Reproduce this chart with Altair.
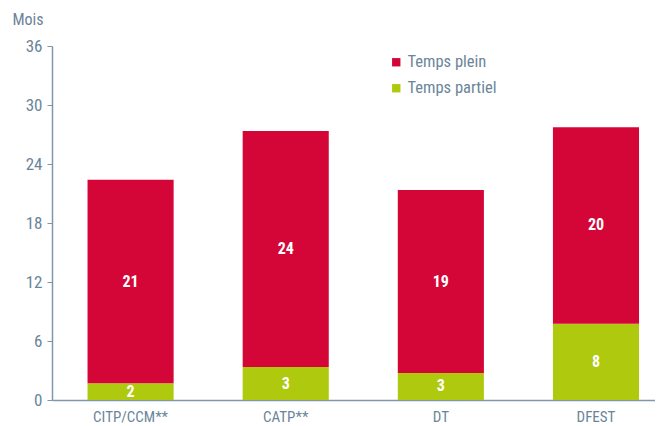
import altair as alt
import pandas as pd

categories = ["CITP/CCM**", "CATP**", "DT", "DFEST"]
plein = [20.7, 24.0, 18.6, 20.0]
partiel = [1.7, 3.35, 2.75, 7.75]
plein_labels = ["21", "24", "19", "20"]
partiel_labels = ["2", "3", "3", "8"]
y_ticks = [0, 6, 12, 18, 24, 30, 36]
series = ["Temps plein", "Temps partiel"]
colors = ["#d40638", "#afc90e"]

rows = []
for i, c in enumerate(categories):
    rows.append({"cat": c, "type": "Temps partiel", "order": 0, "v": partiel[i],
                 "mid": partiel[i] / 2, "lab": partiel_labels[i]})
    rows.append({"cat": c, "type": "Temps plein", "order": 1, "v": plein[i],
                 "mid": partiel[i] + plein[i] / 2, "lab": plein_labels[i]})
df = pd.DataFrame(rows)

FONT = "Roboto Condensed, Roboto, sans-serif"
TXT = "#6a8599"
LINE = "#7f97a8"

x = alt.X("cat:N", sort=categories, title=None,
          scale=alt.Scale(paddingInner=0.445, paddingOuter=0.166, align=0.69),
          axis=alt.Axis(labelAngle=0, ticks=False, labelPadding=9, labelFontSize=15,
                        labelColor=TXT, domainColor=LINE, domainWidth=1.5, labelFont=FONT))

bars = alt.Chart(df).mark_bar().encode(
    x=x,
    y=alt.Y("v:Q", stack="zero", scale=alt.Scale(domain=[0, 36], nice=False),
            axis=alt.Axis(values=y_ticks, grid=False, title="Mois", titleAngle=0,
                          titleX=-40, titleY=-19, titleAlign="left", titleFontSize=16,
                          titleFontWeight="normal", titleColor=TXT, titleFont=FONT,
                          labelFontSize=17, labelColor=TXT, labelFont=FONT,
                          tickColor=LINE, tickSize=5, labelPadding=5,
                          domainColor=LINE, domainWidth=1.5)),
    color=alt.Color("type:N", scale=alt.Scale(domain=series, range=colors),
                    legend=alt.Legend(title=None, orient="none", legendX=336, legendY=8,
                                      symbolType="square", symbolSize=70,
                                      symbolStrokeWidth=0, labelFontSize=16.5,
                                      labelColor=TXT, labelFont=FONT, rowPadding=9,
                                      labelOffset=3)),
    order=alt.Order("order:Q"),
)

labels = alt.Chart(df).mark_text(color="white", fontWeight="bold", fontSize=16,
                                 font=FONT, baseline="middle").encode(
    x=alt.X("cat:N", sort=categories),
    y=alt.Y("mid:Q"),
    text="lab:N",
)

chart = (bars + labels).properties(
    width=603, height=354,
    autosize=alt.AutoSizeParams(type="none"),
    padding={"left": 44, "top": 38, "right": 0, "bottom": 26},
).configure_view(stroke=None)

chart.save("out.html", embed_options={"renderer": "svg", "actions": False})
